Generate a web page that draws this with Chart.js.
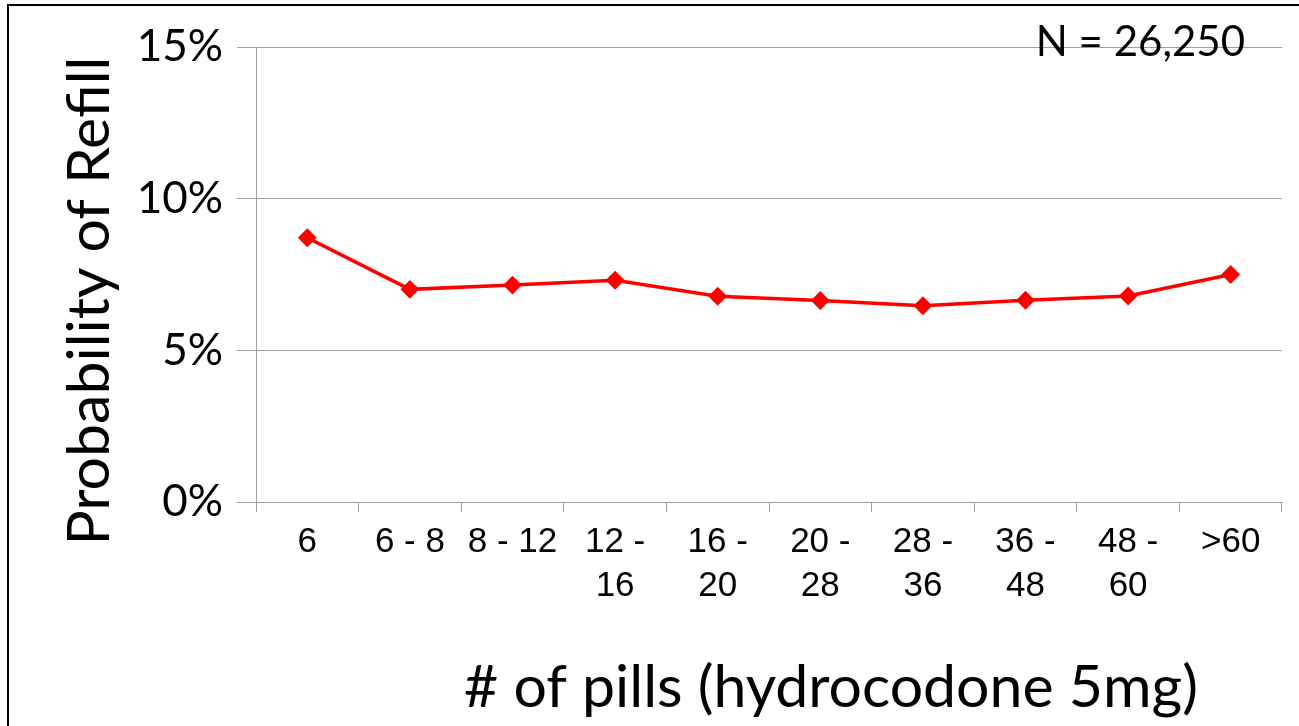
<!DOCTYPE html>
<html>
<head>
<meta charset="utf-8">
<script src="https://cdn.jsdelivr.net/npm/chart.js@4/dist/chart.umd.min.js"></script>
<style>
  html, body { margin: 0; padding: 0; background: #fff; }
  #wrap { position: relative; width: 1299px; height: 726px; overflow: hidden; }
</style>
</head>
<body>
<div id="wrap"><canvas id="refillChart"></canvas></div>
<script>
// categories (pill count buckets) and the tick text shown under each one
const categories = ["6", "6 - 8", "8 - 12", "12 - 16", "16 - 20", "20 - 28", "28 - 36", "36 - 48", "48 - 60", ">60"];
const xTickLabels = [["6"], ["6 - 8"], ["8 - 12"], ["12 -", "16"], ["16 -", "20"], ["20 -", "28"], ["28 -", "36"], ["36 -", "48"], ["48 -", "60"], [">60"]];
// probability of refill, in percent
const refillPct = [8.71, 7.01, 7.15, 7.31, 6.78, 6.64, 6.47, 6.65, 6.79, 7.50];
const yTicks = [0, 5, 10, 15];
const yTickLabels = ["0%", "5%", "10%", "15%"];
const yTitle = "Probability of Refill";
const xTitle = "# of pills (hydrocodone 5mg)";
const noteText = "N = 26,250";

const GRID = "#a0a0a0";
const calibriLike = "Lato, 'Open Sans', sans-serif";

// frame + titles drawn around the chart area
const extras = {
    id: "extras",
    afterDraw(chart) {
        const { ctx } = chart;
        ctx.save();
        ctx.strokeStyle = "#000";
        ctx.lineWidth = 2;
        ctx.strokeRect(8, 5, 1400, 1000);

        ctx.fillStyle = "#000";
        ctx.textAlign = "center";
        ctx.textBaseline = "alphabetic";

        // y title, rotated
        ctx.save();
        ctx.translate(109, 301);
        ctx.rotate(-Math.PI / 2);
        ctx.font = "59px " + calibriLike;
        ctx.fillText(yTitle, 0, 0);
        ctx.restore();

        // x title
        ctx.font = "59px " + calibriLike;
        ctx.fillText(xTitle, 831, 707);

        // sample size note
        ctx.textAlign = "right";
        ctx.font = "42px " + calibriLike;
        ctx.fillText(noteText, 1245, 56);
        ctx.restore();
    }
};

new Chart(document.getElementById("refillChart"), {
    type: "line",
    data: {
        labels: categories,
        datasets: [{
            data: refillPct,
            borderColor: "#ff0000",
            backgroundColor: "#ff0000",
            borderWidth: 3.5,
            pointStyle: "rectRot",
            pointRadius: 7,
            pointHoverRadius: 7,
            tension: 0
        }]
    },
    options: {
        responsive: true,
        maintainAspectRatio: false,
        animation: false,
        layout: { padding: { top: 47, right: 17, left: 0, bottom: 0 } },
        plugins: { legend: { display: false }, tooltip: { enabled: false } },
        scales: {
            x: {
                offset: true,
                afterFit: (s) => { s.height = 224; },
                grid: { display: true, offset: true, drawOnChartArea: false, drawTicks: true, tickLength: 10, color: GRID },
                border: { display: true, color: GRID },
                ticks: {
                    autoSkip: false,
                    maxRotation: 0,
                    padding: 8,
                    color: "#000",
                    font: { family: "'Liberation Sans', Arial, sans-serif", size: 35, lineHeight: "44px" },
                    callback: (v, i) => xTickLabels[i]
                }
            },
            y: {
                min: 0,
                max: 15,
                afterFit: (s) => { s.width = 256; },
                afterBuildTicks: (s) => { s.ticks = yTicks.map((v) => ({ value: v })); },
                grid: { color: GRID, tickLength: 19, drawTicks: true },
                border: { display: true, color: GRID },
                ticks: {
                    padding: 14,
                    color: "#000",
                    font: { family: calibriLike, size: 44 },
                    callback: (v) => yTickLabels[yTicks.indexOf(v)]
                }
            }
        }
    },
    plugins: [extras]
});
</script>
</body>
</html>
